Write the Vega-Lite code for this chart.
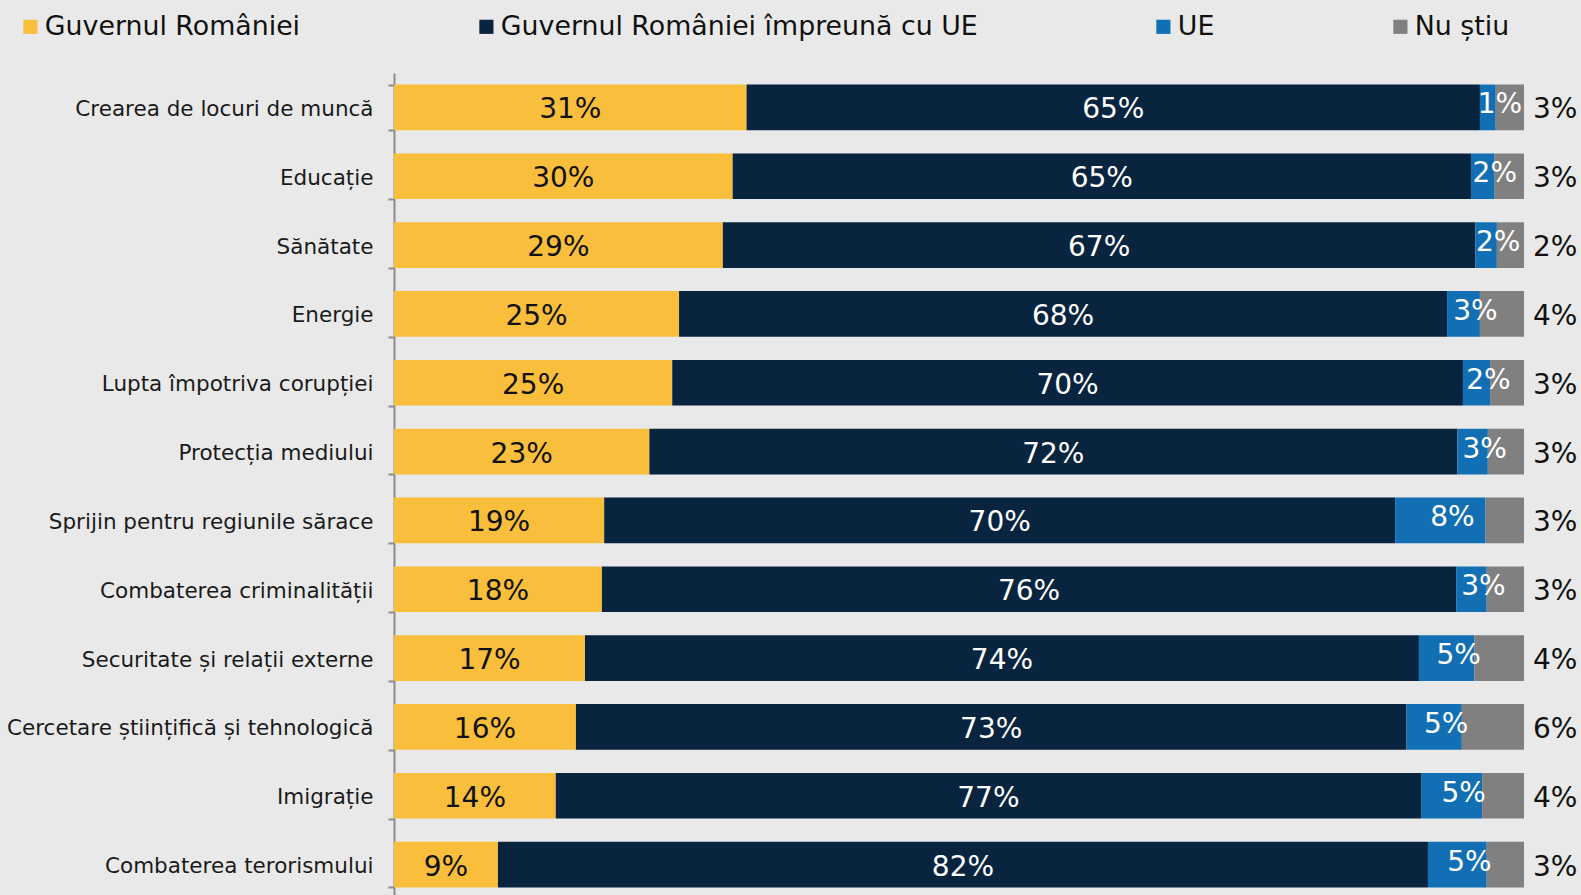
{
  "$schema": "https://vega.github.io/schema/vega-lite/v6.json",
  "autosize": "none",
  "width": 1130,
  "height": 826,
  "padding": {"left": 394, "top": 73, "right": 57, "bottom": 0},
  "background": "#e9e9e9",
  "config": {
    "font": "DejaVu Sans",
    "view": {"stroke": null}
  },
  "data": {
    "values": [
      {"c": "Crearea de locuri de muncă", "s": "Guvernul României", "k": 1, "v": 31.2, "t": "31%"},
      {"c": "Crearea de locuri de muncă", "s": "Guvernul României împreună cu UE", "k": 2, "v": 64.9, "t": "65%"},
      {"c": "Crearea de locuri de muncă", "s": "UE", "k": 3, "v": 1.4, "t": "1%"},
      {"c": "Crearea de locuri de muncă", "s": "Nu știu", "k": 4, "v": 2.5, "t": "3%"},
      {"c": "Educație", "s": "Guvernul României", "k": 1, "v": 30.0, "t": "30%"},
      {"c": "Educație", "s": "Guvernul României împreună cu UE", "k": 2, "v": 65.4, "t": "65%"},
      {"c": "Educație", "s": "UE", "k": 3, "v": 2.1, "t": "2%"},
      {"c": "Educație", "s": "Nu știu", "k": 4, "v": 2.6, "t": "3%"},
      {"c": "Sănătate", "s": "Guvernul României", "k": 1, "v": 29.1, "t": "29%"},
      {"c": "Sănătate", "s": "Guvernul României împreună cu UE", "k": 2, "v": 66.6, "t": "67%"},
      {"c": "Sănătate", "s": "UE", "k": 3, "v": 1.9, "t": "2%"},
      {"c": "Sănătate", "s": "Nu știu", "k": 4, "v": 2.4, "t": "2%"},
      {"c": "Energie", "s": "Guvernul României", "k": 1, "v": 25.2, "t": "25%"},
      {"c": "Energie", "s": "Guvernul României împreună cu UE", "k": 2, "v": 67.9, "t": "68%"},
      {"c": "Energie", "s": "UE", "k": 3, "v": 2.9, "t": "3%"},
      {"c": "Energie", "s": "Nu știu", "k": 4, "v": 3.9, "t": "4%"},
      {"c": "Lupta împotriva corupției", "s": "Guvernul României", "k": 1, "v": 24.6, "t": "25%"},
      {"c": "Lupta împotriva corupției", "s": "Guvernul României împreună cu UE", "k": 2, "v": 69.9, "t": "70%"},
      {"c": "Lupta împotriva corupției", "s": "UE", "k": 3, "v": 2.4, "t": "2%"},
      {"c": "Lupta împotriva corupției", "s": "Nu știu", "k": 4, "v": 3.0, "t": "3%"},
      {"c": "Protecția mediului", "s": "Guvernul României", "k": 1, "v": 22.6, "t": "23%"},
      {"c": "Protecția mediului", "s": "Guvernul României împreună cu UE", "k": 2, "v": 71.5, "t": "72%"},
      {"c": "Protecția mediului", "s": "UE", "k": 3, "v": 2.7, "t": "3%"},
      {"c": "Protecția mediului", "s": "Nu știu", "k": 4, "v": 3.2, "t": "3%"},
      {"c": "Sprijin pentru regiunile sărace", "s": "Guvernul României", "k": 1, "v": 18.6, "t": "19%"},
      {"c": "Sprijin pentru regiunile sărace", "s": "Guvernul României împreună cu UE", "k": 2, "v": 70.0, "t": "70%"},
      {"c": "Sprijin pentru regiunile sărace", "s": "UE", "k": 3, "v": 8.0, "t": "8%"},
      {"c": "Sprijin pentru regiunile sărace", "s": "Nu știu", "k": 4, "v": 3.4, "t": "3%"},
      {"c": "Combaterea criminalității", "s": "Guvernul României", "k": 1, "v": 18.4, "t": "18%"},
      {"c": "Combaterea criminalității", "s": "Guvernul României împreună cu UE", "k": 2, "v": 75.6, "t": "76%"},
      {"c": "Combaterea criminalității", "s": "UE", "k": 3, "v": 2.7, "t": "3%"},
      {"c": "Combaterea criminalității", "s": "Nu știu", "k": 4, "v": 3.3, "t": "3%"},
      {"c": "Securitate și relații externe", "s": "Guvernul României", "k": 1, "v": 16.9, "t": "17%"},
      {"c": "Securitate și relații externe", "s": "Guvernul României împreună cu UE", "k": 2, "v": 73.8, "t": "74%"},
      {"c": "Securitate și relații externe", "s": "UE", "k": 3, "v": 4.9, "t": "5%"},
      {"c": "Securitate și relații externe", "s": "Nu știu", "k": 4, "v": 4.4, "t": "4%"},
      {"c": "Cercetare științifică și tehnologică", "s": "Guvernul României", "k": 1, "v": 16.1, "t": "16%"},
      {"c": "Cercetare științifică și tehnologică", "s": "Guvernul României împreună cu UE", "k": 2, "v": 73.5, "t": "73%"},
      {"c": "Cercetare științifică și tehnologică", "s": "UE", "k": 3, "v": 4.9, "t": "5%"},
      {"c": "Cercetare științifică și tehnologică", "s": "Nu știu", "k": 4, "v": 5.5, "t": "6%"},
      {"c": "Imigrație", "s": "Guvernul României", "k": 1, "v": 14.3, "t": "14%"},
      {"c": "Imigrație", "s": "Guvernul României împreună cu UE", "k": 2, "v": 76.5, "t": "77%"},
      {"c": "Imigrație", "s": "UE", "k": 3, "v": 5.4, "t": "5%"},
      {"c": "Imigrație", "s": "Nu știu", "k": 4, "v": 3.7, "t": "4%"},
      {"c": "Combaterea terorismului", "s": "Guvernul României", "k": 1, "v": 9.2, "t": "9%"},
      {"c": "Combaterea terorismului", "s": "Guvernul României împreună cu UE", "k": 2, "v": 82.3, "t": "82%"},
      {"c": "Combaterea terorismului", "s": "UE", "k": 3, "v": 5.2, "t": "5%"},
      {"c": "Combaterea terorismului", "s": "Nu știu", "k": 4, "v": 3.3, "t": "3%"}
    ]
  },
  "encoding": {
    "y": {
      "field": "c",
      "type": "nominal",
      "sort": null,
      "scale": {"paddingInner": 0.336, "paddingOuter": 0.168},
      "axis": {
        "title": null,
        "labelFontSize": 21.5,
        "labelColor": "#1a1a1a",
        "labelPadding": 15,
        "labelOffset": 2,
        "labelLimit": 400,
        "tickSize": 6,
        "tickBand": "extent",
        "tickColor": "#8c8c8c",
        "tickWidth": 2,
        "domainColor": "#8c8c8c",
        "domainWidth": 2
      }
    },
    "order": {"field": "k", "type": "quantitative"}
  },
  "layer": [
    {
      "mark": {"type": "bar"},
      "encoding": {
        "x": {
          "field": "v",
          "type": "quantitative",
          "stack": "normalize",
          "scale": {"domain": [0, 1], "nice": false},
          "axis": null
        },
        "color": {
          "field": "s",
          "type": "nominal",
          "scale": {
            "domain": ["Guvernul României", "Guvernul României împreună cu UE", "UE", "Nu știu"],
            "range": ["#f9be3b", "#08243e", "#126fb4", "#808080"]
          },
          "legend": {
            "title": null,
            "orient": "none",
            "direction": "horizontal",
            "legendX": -377,
            "legendY": -60,
            "padding": 0,
            "symbolType": "square",
            "symbolSize": 200,
            "symbolStrokeWidth": 0,
            "symbolOpacity": 1,
            "labelFontSize": 26.8,
            "labelColor": "#111111",
            "labelOffset": 1,
            "labelLimit": 1000,
            "columnPadding": 172
          }
        }
      }
    },
    {
      "mark": {"type": "text", "fontSize": 28, "baseline": "middle", "align": "center", "dy": 3},
      "encoding": {
        "x": {"field": "v", "type": "quantitative", "stack": "normalize", "bandPosition": 0.5},
        "text": {
          "condition": {"test": "datum.k <= 2", "field": "t"},
          "value": ""
        },
        "color": {
          "condition": {"test": "datum.k === 1", "value": "#111111"},
          "value": "#ffffff"
        }
      }
    },
    {
      "mark": {"type": "text", "fontSize": 28, "baseline": "middle", "align": "center", "dx": 12, "dy": -2, "color": "#ffffff"},
      "encoding": {
        "x": {"field": "v", "type": "quantitative", "stack": "normalize", "bandPosition": 0.5},
        "text": {
          "condition": {"test": "datum.k === 3", "field": "t"},
          "value": ""
        }
      }
    },
    {
      "mark": {"type": "text", "fontSize": 28, "baseline": "middle", "align": "left", "dx": 9, "dy": 3, "color": "#111111"},
      "encoding": {
        "x": {"field": "v", "type": "quantitative", "stack": "normalize", "bandPosition": 1},
        "text": {
          "condition": {"test": "datum.k === 4", "field": "t"},
          "value": ""
        }
      }
    }
  ]
}
